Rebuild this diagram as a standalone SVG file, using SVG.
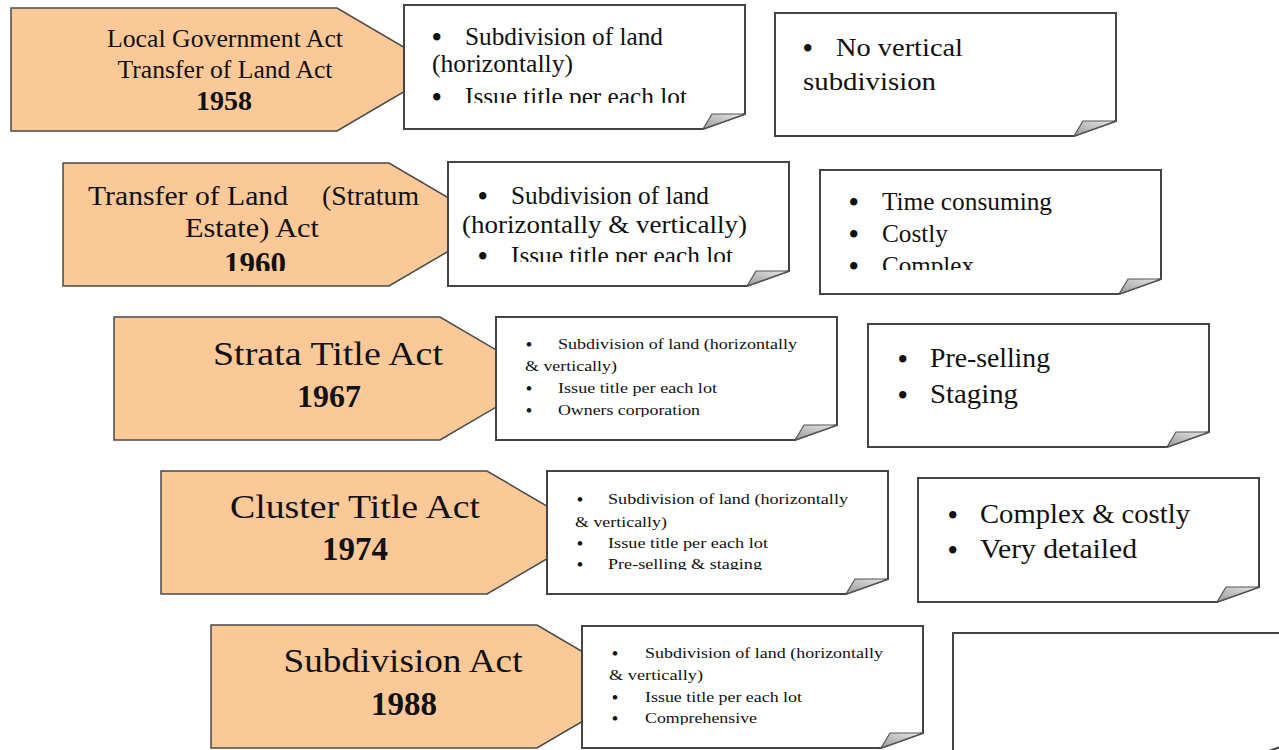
<svg xmlns="http://www.w3.org/2000/svg" width="1279" height="750" viewBox="0 0 1279 750" font-family="'Liberation Serif', 'Times New Roman', serif">
<style>
.pent{fill:#FBC897;stroke:#4a4a4a;stroke-width:1.5}
.note{fill:#fff;stroke:#444;stroke-width:2}
.flap{fill:url(#fg);stroke:#555;stroke-width:1.2}
text{font-family:"Liberation Serif","Times New Roman",serif;fill:#111}
.t{text-anchor:middle}
.y{font-weight:bold;text-anchor:middle}
.sm{font-size:15px}
.md{font-size:25px}
.lg{font-size:28px}
.b{font-size:27px;font-weight:bold}
.bs{font-size:17px;font-weight:bold}
</style>
<defs>
<linearGradient id="fg" x1="0" y1="1" x2="1" y2="0">
<stop offset="0" stop-color="#9a9a9a"/>
<stop offset="1" stop-color="#e8e8e8"/>
</linearGradient>
<clipPath id="c1a" clipPathUnits="userSpaceOnUse"><rect x="404" y="5" width="341" height="98"/></clipPath>
<clipPath id="c2a" clipPathUnits="userSpaceOnUse"><rect x="448" y="162" width="341" height="100"/></clipPath>
<clipPath id="c2b" clipPathUnits="userSpaceOnUse"><rect x="820" y="170" width="341" height="100"/></clipPath>
<clipPath id="c3a" clipPathUnits="userSpaceOnUse"><rect x="496" y="317" width="341" height="100"/></clipPath>
<clipPath id="c4a" clipPathUnits="userSpaceOnUse"><rect x="547" y="471" width="341" height="99"/></clipPath>
<clipPath id="c5a" clipPathUnits="userSpaceOnUse"><rect x="582" y="626" width="341" height="99"/></clipPath>
<clipPath id="cp2" clipPathUnits="userSpaceOnUse"><rect x="63" y="163" width="330" height="108"/></clipPath>
</defs>
<rect width="1279" height="750" fill="#fff"/>
<g id="connectors"/>

<!-- Row 1 -->
<g id="act-1958">
<path class="pent" d="M11 8H337L442 69.5L337 131H11Z"/>
<text class="t md" x="225" y="47" textLength="236" lengthAdjust="spacingAndGlyphs">Local Government Act</text>
<text class="t md" x="225" y="78" textLength="215" lengthAdjust="spacingAndGlyphs">Transfer of Land Act</text>
<text class="y" x="224" y="110" font-size="28">1958</text>
</g>
<g id="features-1958">
<path class="note" d="M404 5H745V114L703 129H404Z"/>
<path class="flap" d="M703 129L712 114H745Z"/>
<g clip-path="url(#c1a)">
<text class="b" x="432" y="46">•</text>
<text class="md" x="465" y="45" textLength="198" lengthAdjust="spacingAndGlyphs">Subdivision of land</text>
<text class="md" x="432" y="72" textLength="141" lengthAdjust="spacingAndGlyphs">(horizontally)</text>
<text class="b" x="432" y="106">•</text>
<text class="md" x="465" y="105" textLength="222" lengthAdjust="spacingAndGlyphs">Issue title per each lot</text>
</g>
</g>
<g id="issues-1958">
<path class="note" d="M775 13H1116V121L1074 136H775Z"/>
<path class="flap" d="M1074 136L1083 121H1116Z"/>
<text class="b" x="803" y="57">•</text>
<text class="md" x="836" y="56" textLength="127" lengthAdjust="spacingAndGlyphs">No vertical</text>
<text class="md" x="803" y="90" textLength="133" lengthAdjust="spacingAndGlyphs">subdivision</text>
</g>

<!-- Row 2 -->
<g id="act-1960">
<path class="pent" d="M63 163H389L494 224.5L389 286H63Z"/>
<text class="lg" x="88" y="205" textLength="200" lengthAdjust="spacingAndGlyphs">Transfer of Land</text>
<text class="lg" x="322" y="205" textLength="97" lengthAdjust="spacingAndGlyphs">(Stratum</text>
<text class="t lg" x="252" y="237" textLength="134" lengthAdjust="spacingAndGlyphs">Estate) Act</text>
<text class="y" x="255" y="274" font-size="31" clip-path="url(#cp2)">1960</text>
</g>
<g id="features-1960">
<path class="note" d="M448 162H789V271L747 286H448Z"/>
<path class="flap" d="M747 286L756 271H789Z"/>
<g clip-path="url(#c2a)">
<text class="b" x="478" y="205">•</text>
<text class="md" x="511" y="204" textLength="198" lengthAdjust="spacingAndGlyphs">Subdivision of land</text>
<text class="md" x="462" y="233" textLength="285" lengthAdjust="spacingAndGlyphs">(horizontally &amp; vertically)</text>
<text class="b" x="478" y="265">•</text>
<text class="md" x="511" y="264" textLength="222" lengthAdjust="spacingAndGlyphs">Issue title per each lot</text>
</g>
</g>
<g id="issues-1960">
<path class="note" d="M820 170H1161V279L1119 294H820Z"/>
<path class="flap" d="M1119 294L1128 279H1161Z"/>
<g clip-path="url(#c2b)">
<text class="b" x="849" y="211">•</text>
<text class="md" x="882" y="210" textLength="170" lengthAdjust="spacingAndGlyphs">Time consuming</text>
<text class="b" x="849" y="243">•</text>
<text class="md" x="882" y="242" textLength="66" lengthAdjust="spacingAndGlyphs">Costly</text>
<text class="b" x="849" y="275">•</text>
<text class="md" x="882" y="274" textLength="92" lengthAdjust="spacingAndGlyphs">Complex</text>
</g>
</g>

<!-- Row 3 -->
<g id="act-1967">
<path class="pent" d="M114 317H440L545 378.5L440 440H114Z"/>
<text class="t" x="328" y="365" font-size="33" textLength="230" lengthAdjust="spacingAndGlyphs">Strata Title Act</text>
<text class="y" x="329" y="407" font-size="32">1967</text>
</g>
<g id="features-1967">
<path class="note" d="M496 317H837V425L795 440H496Z"/>
<path class="flap" d="M795 440L804 425H837Z"/>
<g clip-path="url(#c3a)">
<text class="bs" x="526" y="350">•</text>
<text class="sm" x="558" y="349" textLength="239" lengthAdjust="spacingAndGlyphs">Subdivision of land (horizontally</text>
<text class="sm" x="525" y="371" textLength="92" lengthAdjust="spacingAndGlyphs">&amp; vertically)</text>
<text class="bs" x="526" y="394">•</text>
<text class="sm" x="558" y="393" textLength="159" lengthAdjust="spacingAndGlyphs">Issue title per each  lot</text>
<text class="bs" x="526" y="416">•</text>
<text class="sm" x="558" y="415" textLength="142" lengthAdjust="spacingAndGlyphs">Owners corporation</text>
</g>
</g>
<g id="issues-1967">
<path class="note" d="M868 324H1209V432L1167 447H868Z"/>
<path class="flap" d="M1167 447L1176 432H1209Z"/>
<text class="b" x="898" y="368">•</text>
<text class="lg" x="930" y="367" textLength="120" lengthAdjust="spacingAndGlyphs">Pre-selling</text>
<text class="b" x="898" y="404">•</text>
<text class="lg" x="930" y="403" textLength="88" lengthAdjust="spacingAndGlyphs">Staging</text>
</g>

<!-- Row 4 -->
<g id="act-1974">
<path class="pent" d="M161 471H487L592 532.5L487 594H161Z"/>
<text class="t" x="355" y="518" font-size="34" textLength="250" lengthAdjust="spacingAndGlyphs">Cluster Title Act</text>
<text class="y" x="355" y="560" font-size="33">1974</text>
</g>
<g id="features-1974">
<path class="note" d="M547 471H888V579L846 594H547Z"/>
<path class="flap" d="M846 594L855 579H888Z"/>
<g clip-path="url(#c4a)">
<text class="bs" x="577" y="505">•</text>
<text class="sm" x="608" y="504" textLength="240" lengthAdjust="spacingAndGlyphs">Subdivision of land (horizontally</text>
<text class="sm" x="575" y="527" textLength="92" lengthAdjust="spacingAndGlyphs">&amp; vertically)</text>
<text class="bs" x="577" y="549">•</text>
<text class="sm" x="608" y="548" textLength="160" lengthAdjust="spacingAndGlyphs">Issue title per each  lot</text>
<text class="bs" x="577" y="570">•</text>
<text class="sm" x="608" y="569" textLength="154" lengthAdjust="spacingAndGlyphs">Pre-selling &amp; staging</text>
</g>
</g>
<g id="issues-1974">
<path class="note" d="M918 478H1259V587L1217 602H918Z"/>
<path class="flap" d="M1217 602L1226 587H1259Z"/>
<text class="b" x="948" y="524">•</text>
<text class="lg" x="980" y="523" textLength="210" lengthAdjust="spacingAndGlyphs">Complex &amp; costly</text>
<text class="b" x="948" y="559">•</text>
<text class="lg" x="980" y="558" textLength="157" lengthAdjust="spacingAndGlyphs">Very detailed</text>
</g>

<!-- Row 5 -->
<g id="act-1988">
<path class="pent" d="M211 625H537L642 686.5L537 748H211Z"/>
<text class="t" x="403" y="672" font-size="34" textLength="239" lengthAdjust="spacingAndGlyphs">Subdivision Act</text>
<text class="y" x="404" y="715" font-size="33">1988</text>
</g>
<g id="features-1988">
<path class="note" d="M582 626H923V733L881 748H582Z"/>
<path class="flap" d="M881 748L890 733H923Z"/>
<g clip-path="url(#c5a)">
<text class="bs" x="612" y="659">•</text>
<text class="sm" x="645" y="658" textLength="238" lengthAdjust="spacingAndGlyphs">Subdivision of land (horizontally</text>
<text class="sm" x="609" y="680" textLength="94" lengthAdjust="spacingAndGlyphs">&amp; vertically)</text>
<text class="bs" x="612" y="703">•</text>
<text class="sm" x="645" y="702" textLength="157" lengthAdjust="spacingAndGlyphs">Issue title per each  lot</text>
<text class="bs" x="612" y="724">•</text>
<text class="sm" x="645" y="723" textLength="112" lengthAdjust="spacingAndGlyphs">Comprehensive</text>
</g>
</g>
<g id="issues-1988">
<path class="note" d="M953 633H1294V742L1252 757H953Z"/>
</g>
</svg>
